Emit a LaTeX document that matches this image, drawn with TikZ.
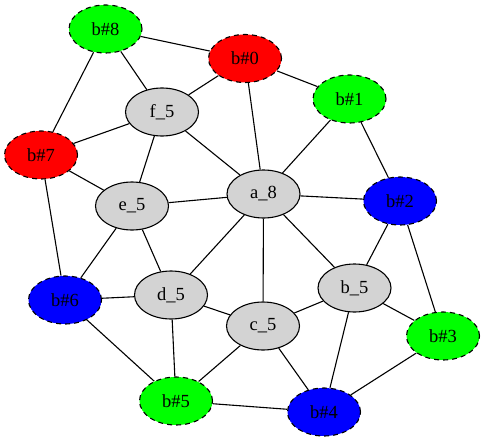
\documentclass[tikz,border=0pt]{standalone}
\usepackage{fontspec}
\setmainfont{Liberation Serif}
\usetikzlibrary{shapes.geometric}
\definecolor{gv}{HTML}{00FF00}
\definecolor{rv}{HTML}{FF0000}
\definecolor{bv}{HTML}{0000FF}
\definecolor{lg}{HTML}{D3D3D3}
\tikzset{
  vnode/.style={ellipse, minimum width=73pt, minimum height=48pt, inner sep=0pt, line width=1.1pt, font=\fontsize{18.5}{22}\selectfont},
  inner/.style={vnode, draw=black, fill=lg},
  outer/.style={vnode, draw=black, dash pattern=on 5pt off 4pt},
  gnode/.style={outer, fill=gv},
  rnode/.style={outer, fill=rv},
  bnode/.style={outer, fill=bv},
  edge/.style={line width=1.1pt, black}
}
\begin{document}
\begin{tikzpicture}[x=1pt,y=-1pt]
\useasboundingbox (0,0) rectangle (484,441);
\node[gnode] (b8) at (105.5,29) {b\#8};
\node[rnode] (b0) at (245,58.5) {b\#0};
\node[gnode] (b1) at (349.5,99) {b\#1};
\node[inner] (f5) at (162,112) {f\_5};
\node[rnode] (b7) at (41,155) {b\#7};
\node[inner] (a8) at (263.5,194) {a\_8};
\node[bnode] (b2) at (400,201) {b\#2};
\node[inner] (e5) at (132,206) {e\_5};
\node[inner] (d5) at (171,295) {d\_5};
\node[bnode] (b6) at (65,300) {b\#6};
\node[inner] (b5n) at (354.5,288) {b\_5};
\node[inner] (c5) at (263,326) {c\_5};
\node[gnode] (b3) at (443,336) {b\#3};
\node[gnode] (b5) at (176,401) {b\#5};
\node[bnode] (b4) at (324,412) {b\#4};
\foreach \u/\v in {b8/b0,b8/f5,b8/b7,b0/f5,b0/a8,b0/b1,b1/a8,b1/b2,f5/b7,f5/e5,f5/a8,b7/e5,b7/b6,e5/a8,e5/b6,e5/d5,a8/b2,a8/d5,a8/c5,a8/b5n,b2/b5n,b2/b3,b6/d5,b6/b5,d5/c5,d5/b5,c5/b5n,c5/b5,c5/b4,b5n/b3,b5n/b4,b3/b4,b5/b4}
  \draw[edge] (\u) -- (\v);
\end{tikzpicture}
\end{document}
